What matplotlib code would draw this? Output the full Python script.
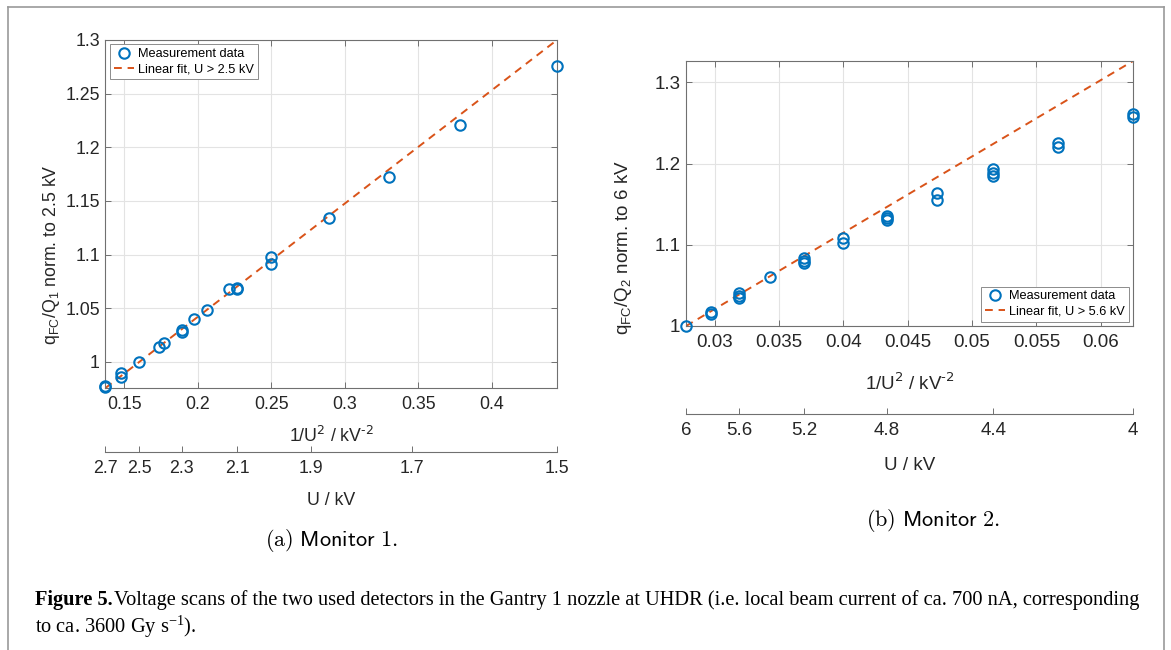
import numpy as np
import matplotlib
matplotlib.use("Agg")
import matplotlib.pyplot as plt
from matplotlib.lines import Line2D
from matplotlib.ticker import FuncFormatter

plt.rcParams['font.family'] = ['Liberation Sans', 'DejaVu Sans']

# ---------- Data ----------

# Monitor 1: x = 1/U^2 (kV^-2), y = q_FC/Q_1 normalised to 2.5 kV
m1_x = [0.1372, 0.1372, 0.1479, 0.1479, 0.1600, 0.1736, 0.1773, 0.1890, 0.1890,
        0.1975, 0.2066, 0.2215, 0.2268, 0.2268, 0.2500, 0.2500, 0.2890, 0.3303,
        0.3787, 0.4444]
m1_y = [0.9773, 0.9763, 0.9897, 0.9857, 1.0003, 1.0140, 1.0180, 1.0293, 1.0280,
        1.0400, 1.0480, 1.0680, 1.0690, 1.0676, 1.0975, 1.0910, 1.1340, 1.1720,
        1.2209, 1.2754]
m1_fit = (1.056, 0.8307)          # slope, intercept
m1_xticks = [0.15, 0.2, 0.25, 0.3, 0.35, 0.4]
m1_yticks = [1.0, 1.05, 1.1, 1.15, 1.2, 1.25, 1.3]
m1_U = [2.7, 2.5, 2.3, 2.1, 1.9, 1.7, 1.5]
m1_xlim = (1 / 2.7**2, 1 / 1.5**2)
m1_ylim = (0.9756, 1.3)

# Monitor 2: x = 1/U^2 (kV^-2), y = q_FC/Q_2 normalised to 6 kV
m2_x = [0.02778, 0.02973, 0.02973, 0.03189, 0.03189, 0.03189, 0.03429, 0.03698,
        0.03698, 0.03698, 0.0400, 0.0400, 0.0434, 0.0434, 0.0434, 0.04726, 0.04726,
        0.05165, 0.05165, 0.05165, 0.05669, 0.05669, 0.0625, 0.0625]
m2_y = [1.0000, 1.0176, 1.0148, 1.0410, 1.0370, 1.0350, 1.0603, 1.0833, 1.0800,
        1.0772, 1.1080, 1.1020, 1.1354, 1.1330, 1.1305, 1.1640, 1.1550, 1.1929,
        1.1890, 1.1850, 1.2257, 1.2208, 1.2606, 1.2569]
m2_fit = (9.398, 0.7389)          # slope, intercept
m2_xticks = [0.03, 0.035, 0.04, 0.045, 0.05, 0.055, 0.06]
m2_yticks = [1.0, 1.1, 1.2, 1.3]
m2_U = [6, 5.6, 5.2, 4.8, 4.4, 4]
m2_xlim = (1 / 6**2, 1 / 4**2)
m2_ylim = (1.0, 1.3263)

BLUE = '#0072BD'
ORANGE = '#D95319'
FRAME = '#707070'
TXT = '#262626'

W, H = 1171, 650
fig = plt.figure(figsize=(W / 100, H / 100), dpi=100)


def px_axes(x0, y0, x1, y1):
    # pixel box (top-left origin) -> figure axes
    return fig.add_axes([x0 / W, 1 - y1 / H, (x1 - x0) / W, (y1 - y0) / H])


gfmt = FuncFormatter(lambda v, p: '%g' % round(v, 4))


def panel(ax, x, y, fit, xticks, yticks, U, xlim, ylim, fs, sec_loc,
          xlab_y, ulab_y, ylab_pos, ylab, fit_label, legend_loc):
    ax.plot(x, y, 'o', mfc='none', mec=BLUE, mew=1.5, ms=7.5, clip_on=False,
            label='Measurement data', zorder=3)
    xs = np.array(xlim)
    ax.plot(xs, fit[0] * xs + fit[1], '--', color=ORANGE, lw=1.4,
            dashes=(4, 3), label=fit_label, zorder=2)
    ax.set_xlim(xlim)
    ax.set_ylim(ylim)
    ax.set_xticks(xticks)
    ax.set_yticks(yticks)
    ax.xaxis.set_major_formatter(gfmt)
    ax.yaxis.set_major_formatter(gfmt)
    ax.grid(True, color='#e3e3e3', lw=0.8)
    ax.set_axisbelow(True)
    for s in ax.spines.values():
        s.set_color(FRAME)
        s.set_linewidth(0.8)
    ax.tick_params(direction='in', length=4, width=0.7, color=FRAME,
                   labelsize=fs, labelcolor=TXT, top=True, right=True, pad=6)
    ax.tick_params(axis='y', pad=4)

    ax.text(0.5, xlab_y, r'1/U$^{2}$ / kV$^{\text{-}2}$', transform=ax.transAxes,
            ha='center', va='top', fontsize=fs, color=TXT)
    ax.text(ylab_pos[0], ylab_pos[1], ylab, transform=ax.transAxes,
            rotation=90, ha='center', va='center', fontsize=fs, color=TXT)

    # second x axis showing the voltage
    sec = ax.secondary_xaxis(sec_loc)
    sec.set_xticks([1 / u**2 for u in U], labels=['%g' % u for u in U])
    sec.spines['bottom'].set_color(FRAME)
    sec.spines['bottom'].set_linewidth(0.8)
    sec.tick_params(direction='in', length=4, width=0.7, color=FRAME,
                    labelsize=fs, labelcolor=TXT, pad=6)
    ax.text(0.5, ulab_y, 'U / kV', transform=ax.transAxes,
            ha='center', va='top', fontsize=fs, color=TXT)

    leg = ax.legend(loc=legend_loc, fontsize=9.2, frameon=True, fancybox=False,
                    edgecolor='#8c8c8c', framealpha=1, handlelength=1.6,
                    handletextpad=0.3, labelspacing=0.25, borderpad=0.3,
                    borderaxespad=0.35)
    leg.get_frame().set_linewidth(0.7)


# ---------- Monitor 1 ----------
ax1 = px_axes(105.4, 40, 557, 388)
panel(ax1, m1_x, m1_y, m1_fit, m1_xticks, m1_yticks, m1_U, m1_xlim, m1_ylim,
      12.8, -0.184, -0.109, -0.299, (-0.12, 0.382),
      r'$\mathregular{q_{FC}/Q_1}$ norm. to 2.5 kV',
      'Linear fit, U > 2.5 kV', 'upper left')

# ---------- Monitor 2 ----------
ax2 = px_axes(686, 61, 1133, 326)
panel(ax2, m2_x, m2_y, m2_fit, m2_xticks, m2_yticks, m2_U, m2_xlim, m2_ylim,
      13.5, -0.332, -0.174, -0.494, (-0.139, 0.296),
      r'$\mathregular{q_{FC}/Q_2}$ norm. to 6 kV',
      'Linear fit, U > 5.6 kV', 'lower right')

# ---------- sub captions ----------
fig.text(331 / W, 1 - 540 / H, r'$\mathrm{(a)}\ \mathsf{Monitor\ 1.}$',
         math_fontfamily='cm', fontsize=16, ha='center', va='center')
fig.text(933 / W, 1 - 520 / H, r'$\mathrm{(b)}\ \mathsf{Monitor\ 2.}$',
         math_fontfamily='cm', fontsize=16, ha='center', va='center')

# ---------- figure caption ----------
cap_fs = 14.7
t_bold = fig.text(35 / W, 1 - 600 / H, 'Figure 5.', family='Liberation Serif',
                  weight='bold', fontsize=cap_fs, ha='left', va='center')
fig.canvas.draw()
bb = t_bold.get_window_extent()
fig.text((bb.x1 + 1) / W, 1 - 600 / H,
         'Voltage scans of the two used detectors in the Gantry 1 nozzle at UHDR '
         '(i.e. local beam current of ca. 700 nA, corresponding',
         family='Liberation Serif', fontsize=cap_fs, ha='left', va='center')
fig.text(35 / W, 1 - 627 / H, r'to ca. 3600 Gy $\mathregular{s^{-1}}$).',
         family='Liberation Serif', fontsize=cap_fs, ha='left', va='center')

# ---------- page frame ----------
for xs, ys in [((8, 8), (650, 7)), ((8, 1164), (7, 7)), ((1164, 1164), (7, 650))]:
    fig.add_artist(Line2D([x / W for x in xs], [1 - y / H for y in ys],
                          color='#9a9a9a', lw=1.2))

fig.savefig('out.png', dpi=100)
